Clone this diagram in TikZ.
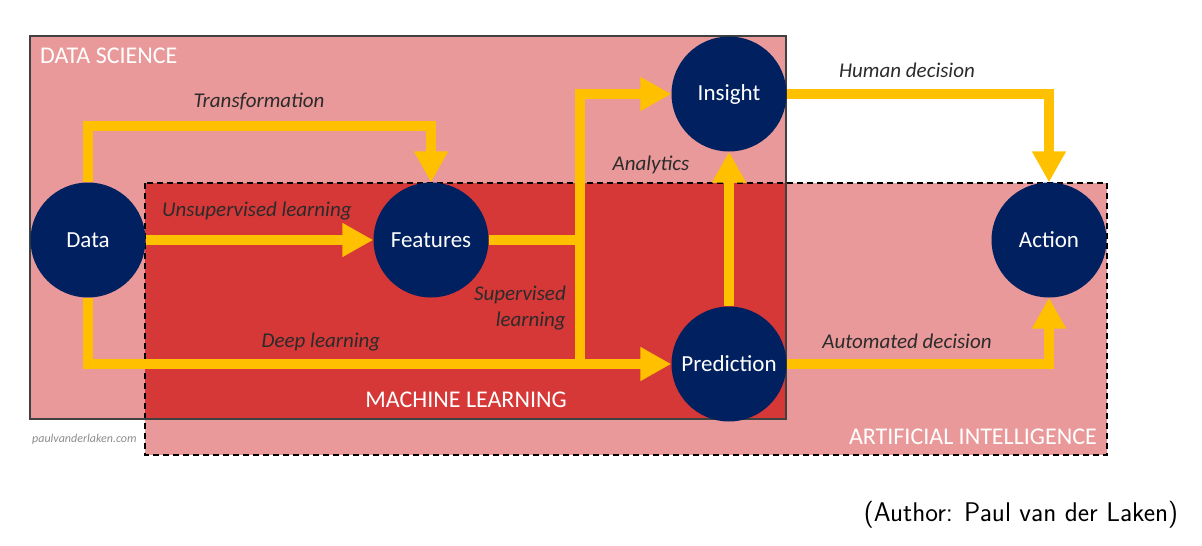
\documentclass[tikz,border=0pt]{standalone}
\usepackage{fontspec}
\setmainfont{Carlito}
\usetikzlibrary{arrows.meta}
\definecolor{pinkbg}{HTML}{E99999}
\definecolor{mlred}{HTML}{D63737}
\definecolor{navy}{HTML}{002060}
\definecolor{gold}{HTML}{FFC000}
\definecolor{lbl}{HTML}{2B2B2B}
\begin{document}
\begin{tikzpicture}[x=1pt,y=-1pt,
  circ/.style={circle,fill=navy,text=white,minimum size=115pt,inner sep=0pt,font=\fontsize{23}{27}\selectfont},
  flow/.style={draw=gold,line width=10pt,line join=miter},
  arr/.style={flow,-{Triangle[width=32pt,length=31pt]}},
  lab/.style={text=lbl,font=\fontsize{21}{26}\selectfont\itshape,inner sep=0pt},
  region/.style={text=white,font=\fontsize{24}{28}\selectfont,inner sep=0pt}
]
\useasboundingbox (0,0) rectangle (1202,546);
% regions
\fill[pinkbg] (30,36) rectangle (786,419);
\fill[pinkbg] (145,183) rectangle (1107,455);
\fill[mlred] (145,183) rectangle (786,419);
\draw[black,line width=1.3pt,dash pattern=on 6pt off 4pt] (145,183) rectangle (1107,455);
\draw[draw=black!75,line width=1.5pt] (30,36) rectangle (786,419);
\node[region,anchor=west] (ds) at (40,56) {DATA SCIENCE};
\node[region] (ml) at (466,400) {MACHINE LEARNING};
\node[region,anchor=east] (ai) at (1097,437) {ARTIFICIAL INTELLIGENCE};
\node[text=black!45,font=\fontsize{12}{14}\selectfont\itshape,anchor=west,inner sep=0pt] (wm) at (32,439) {paulvanderlaken.com};
% nodes
\node[circ] (data) at (88,240) {Data};
\node[circ] (features) at (431,240) {Features};
\node[circ] (insight) at (729,94) {Insight};
\node[circ] (prediction) at (729,364) {Prediction};
\node[circ] (action) at (1049,240) {Action};
\coordinate (split) at (580,240);
% connectors
\draw[arr] (data.north) -- ++(0,-56) -| (features.north);
\draw[arr] (data.east) -- (features.west);
\draw[arr] (data.south) |- (prediction.west);
\draw[flow] (features.east) -- (split);
\draw[arr] (split) |- (insight.west);
\draw[flow] (split) -- (split |- prediction.west);
\draw[arr] (prediction.north) -- (insight.south);
\draw[arr] (insight.east) -| (action.north);
\draw[arr] (prediction.east) -| (action.south);
% labels
\node[lab] (l1) at (259,101) {Transformation};
\node[lab,anchor=west] (l2) at (162,211) {Unsupervised learning};
\node[lab] (l3) at (321,342) {Deep learning};
\node[lab,anchor=east,align=right] (l4) at (566,308) {Supervised\\learning};
\node[lab] (l5) at (651,165) {Analytics};
\node[lab] (l6) at (907,70) {Human decision};
\node[lab] (l7) at (907,341) {Automated decision};
% caption
\node[font=\sffamily\fontsize{27}{32}\selectfont,inner sep=0pt] (cap) at (1021,515) {(Author: Paul van der Laken)};
\end{tikzpicture}
\end{document}
